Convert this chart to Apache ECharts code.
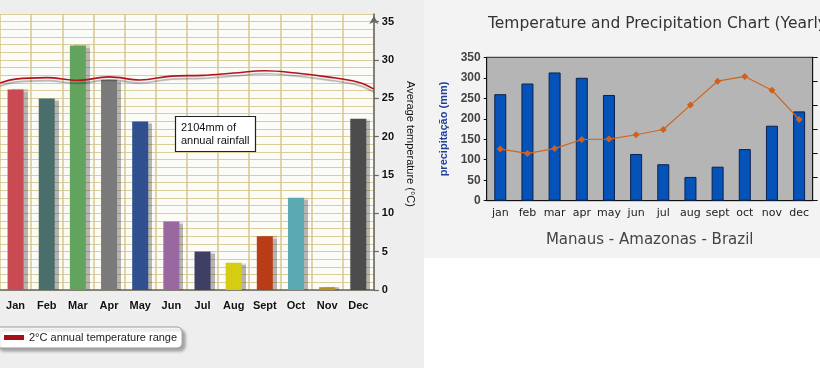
<!DOCTYPE html>
<html><head><meta charset="utf-8">
<script src="https://cdn.jsdelivr.net/npm/echarts@6/dist/echarts.min.js"></script>
<style>
html,body{margin:0;padding:0;width:820px;height:368px;overflow:hidden;background:#fff;}
#left{position:absolute;left:0;top:0;width:424px;height:368px;background:#eeeeee;}
#right{position:absolute;left:424px;top:0;width:396px;height:368px;background:linear-gradient(#f3f3f3 0,#f3f3f3 258px,#ffffff 258px);}
</style></head><body>
<div id="left"></div><div id="right"></div>
<script>
// ---- left chart data ----
const leftMonths = ['Jan','Feb','Mar','Apr','May','Jun','Jul','Aug','Sept','Oct','Nov','Dec'];
const leftRainfall = [287,274,350,301,241,98,55,39,77,132,4,245];
const leftBarColors = ['#c94a52','#4a6e6c','#62a35e','#7a7a7a','#2f4f8f','#9a68a0','#3f3f66','#d6cc12','#b83c16','#5caab1','#b8921c','#4c4c4c'];
const leftTempPos = [0,0.5,1.5,2.5,3.5,4.5,5.5,6.5,7.5,8.5,9.5,10.5,11.5,12];
const leftTemp = [27.0,27.5,27.7,27.35,27.8,27.4,27.9,28.0,28.3,28.6,28.3,27.8,27.1,26.2];
const leftTempTicks = [0,5,10,15,20,25,30,35];
const leftNote = '2104mm of\nannual rainfall';
const leftLegend = '2°C annual temperature range';

// ---- right chart data ----
const rightMonths = ['jan','feb','mar','apr','may','jun','jul','aug','sept','oct','nov','dec'];
const rightPrecip = [260,286,313,300,258,114,89,58,83,126,183,218];
const rightTemp = [26.08,25.99,26.09,26.28,26.29,26.38,26.49,27.0,27.5,27.6,27.31,26.7];

const glow = {textShadowColor:'#ffffff', textShadowBlur:6};

const left = echarts.init(document.getElementById('left'));
left.setOption({
  animation:false,
  title:{text:leftNote, left:175, top:116, padding:[5,6], backgroundColor:'#fff', borderColor:'#222', borderWidth:1.2,
    textStyle:{fontFamily:'Arial', fontSize:11, fontWeight:'normal', color:'#111', lineHeight:13}},
  legend:{data:[leftLegend], left:-4, top:327, icon:'rect', itemWidth:20, itemHeight:5, itemGap:4,
    padding:[5,5,5,8], backgroundColor:'#fff', borderColor:'#999', borderWidth:1, borderRadius:5,
    shadowColor:'rgba(0,0,0,0.3)', shadowBlur:3, shadowOffsetX:3, shadowOffsetY:3,
    textStyle:{fontFamily:'Arial', fontSize:11, color:'#222'}},
  grid:{left:-3, right:49, top:14, bottom:78, show:true, backgroundColor:'#fbfbf8', borderWidth:0},
  xAxis:[
    {type:'category', data:leftMonths,
      axisLine:{onZero:false, lineStyle:{color:'#666', width:1.5}},
      axisTick:{length:6, lineStyle:{color:'#666', width:1.2}},
      splitLine:{show:true, interval:0, lineStyle:{color:'#d8c690', width:1.5}},
      axisLabel:Object.assign({fontFamily:'Arial', fontSize:11, fontWeight:'bold', color:'#111', margin:10, interval:0}, glow)},
    {type:'value', min:0, max:12, show:false}
  ],
  yAxis:[
    {type:'value', position:'right', min:0, max:36, interval:5,
      name:'Average temperature (°C)', nameLocation:'middle', nameRotate:-90, nameGap:26,
      nameTextStyle:Object.assign({fontFamily:'Arial', fontSize:11, color:'#111', padding:[0,16,0,0]}, glow),
      axisLine:{show:true, onZero:false, symbol:['none','arrow'], symbolSize:[7,8], symbolOffset:[0,-2], lineStyle:{color:'#666', width:1.5}},
      axisTick:{show:true, length:5, customValues:leftTempTicks, lineStyle:{color:'#666', width:1.2}},
      axisLabel:Object.assign({customValues:leftTempTicks, fontFamily:'Arial', fontSize:11, fontWeight:'bold', color:'#111', margin:8}, glow),
      splitLine:{show:false}},
    {type:'value', position:'left', min:0, max:395, show:false},
    {type:'value', position:'right', min:0, max:36, interval:1,
      axisLine:{show:false, onZero:false}, axisTick:{show:false}, axisLabel:{show:false},
      splitLine:{show:true, lineStyle:{color:'#dccd9c', width:1}}}
  ],
  series:[
    {type:'bar', yAxisIndex:1, data:leftRainfall.map((v,i)=>({value:v, itemStyle:{color:leftBarColors[i]}})),
      barWidth:16,
      itemStyle:{shadowColor:'rgba(0,0,0,0.28)', shadowBlur:1, shadowOffsetX:4, shadowOffsetY:0}},
    {type:'line', name:leftLegend, xAxisIndex:1, yAxisIndex:0,
      data:leftTempPos.map((p,i)=>[p, leftTemp[i]]),
      smooth:0.4, symbol:'none', color:'#a50f15',
      lineStyle:{color:'#b3141c', width:1.6, shadowColor:'rgba(0,0,0,0.3)', shadowBlur:1, shadowOffsetY:3}}
  ]
});

const right = echarts.init(document.getElementById('right'));
right.setOption({
  animation:false,
  title:{text:'Temperature and Precipitation Chart (Yearly)', left:64, top:16, padding:0,
    textStyle:{fontFamily:'DejaVu Sans', fontSize:15.5, fontWeight:'normal', color:'#333'}},
  grid:{left:62.7, right:7.3, top:57.3, bottom:167.3, show:true, backgroundColor:'#b5b5b5', borderColor:'#222', borderWidth:1},
  xAxis:{type:'category', data:rightMonths,
    name:'Manaus - Amazonas - Brazil', nameLocation:'middle', nameGap:32,
    nameTextStyle:{fontFamily:'DejaVu Sans', fontSize:15, color:'#444'},
    axisLine:{lineStyle:{color:'#111'}},
    axisTick:{length:5, lineStyle:{color:'#111'}},
    axisLabel:{fontFamily:'DejaVu Sans', fontSize:11, color:'#222', margin:7, interval:0}},
  yAxis:[
    {type:'value', min:0, max:350, interval:50,
      name:'precipitação (mm)', nameLocation:'middle', nameGap:32,
      nameTextStyle:{color:'#1f3f99', fontWeight:'bold', fontSize:11, fontFamily:'Arial'},
      axisLine:{show:true, lineStyle:{color:'#111'}},
      axisTick:{show:true, length:3, lineStyle:{color:'#111'}},
      axisLabel:{fontFamily:'Arial', fontSize:12, fontWeight:'bold', color:'#444', margin:6},
      splitLine:{show:false}},
    {type:'value', position:'right', min:25, max:28, interval:0.5,
      axisLine:{show:true, lineStyle:{color:'#111'}},
      axisTick:{show:true, length:5, lineStyle:{color:'#111'}},
      axisLabel:{show:false}, splitLine:{show:false}}
  ],
  series:[
    {type:'bar', data:rightPrecip, barWidth:12, itemStyle:{color:'#0553b8', borderColor:'#0b2150', borderWidth:1}},
    {type:'line', yAxisIndex:1, data:rightTemp, symbol:'diamond', symbolSize:7,
      lineStyle:{color:'#d2651e', width:1.2}, itemStyle:{color:'#d2601a'}}
  ]
});
</script>
</body></html>
